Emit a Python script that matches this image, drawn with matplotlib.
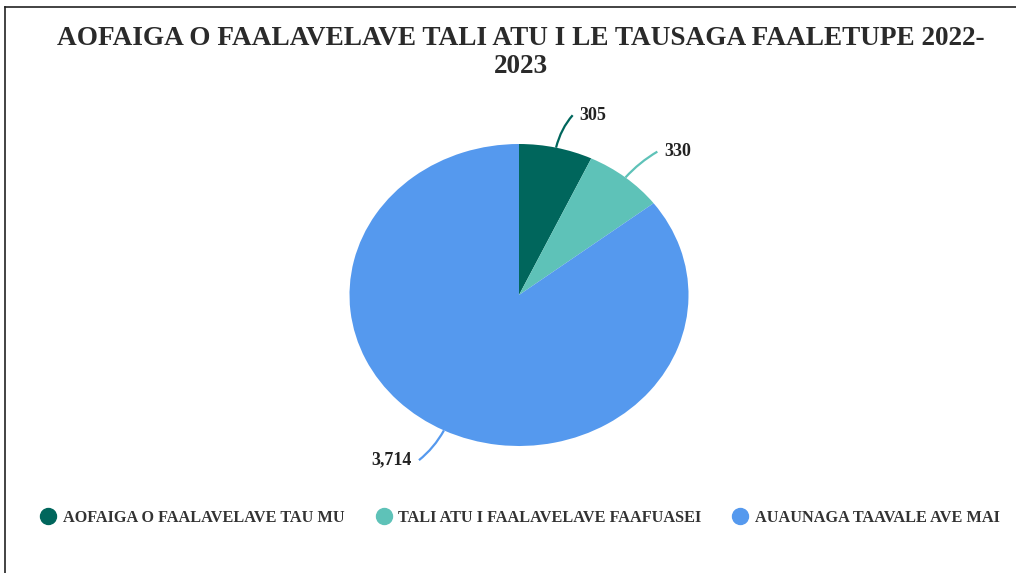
import numpy as np
import matplotlib.pyplot as plt
from matplotlib.path import Path
from matplotlib.patches import PathPatch
from matplotlib.lines import Line2D

labels = ["AOFAIGA O FAALAVELAVE TAU MU", "TALI ATU I FAALAVELAVE FAAFUASEI", "AUAUNAGA TAAVALE AVE MAI"]
values = [305, 330, 3714]
colors = ["#00665c", "#5ec2b8", "#5599ee"]
title = "AOFAIGA O FAALAVELAVE TALI ATU I LE TAUSAGA FAALETUPE 2022-\n2023"

W, H = 1016, 573
fig = plt.figure(figsize=(W / 100, H / 100), dpi=100)
fig.patch.set_facecolor("white")

# pie box in pixels (image is slightly stretched horizontally)
cx, cy, rx, ry = 519, 295, 169.5, 151
ax = fig.add_axes([(cx - rx) / W, 1 - (cy + ry) / H, 2 * rx / W, 2 * ry / H])
wedges, _ = ax.pie(values, colors=colors, startangle=90, counterclock=False,
                   wedgeprops=dict(linewidth=0))
ax.set_aspect("auto")
ax.set_xlim(-1, 1)
ax.set_ylim(-1, 1)
ax.axis("off")

total = sum(values)
start = 90.0
for v, c in zip(values, colors):
    span = v / total * 360
    mid = np.deg2rad(start - span / 2)
    start -= span
    dx, dy = np.cos(mid), np.sin(mid)
    side = 1 if dx >= 0 else -1
    p0 = (dx, dy)
    p1 = (dx * 1.13, dy * 1.13)
    p2 = (dx * 1.22 + side * 0.05, dy * 1.22)
    path = Path([p0, p1, p2], [Path.MOVETO, Path.CURVE3, Path.CURVE3])
    ax.add_patch(PathPatch(path, fill=False, edgecolor=c, lw=1.6, clip_on=False))
    ax.text(p2[0] + side * 0.04, p2[1], f"{v:,}", ha="left" if side > 0 else "right",
            va="center", fontsize=13, fontweight="bold", family="Liberation Serif",
            color="#222222", clip_on=False)

fig.text(521 / W, 1 - 26 / H, title, ha="center", va="top", fontsize=19.6,
         fontweight="bold", family="Liberation Serif", color="#2a2a2a", linespacing=1.17)

handles = [Line2D([], [], marker="o", ls="", markersize=11.5, markerfacecolor=c,
                  markeredgecolor=c) for c in colors]
fig.legend(handles, labels, loc="center", bbox_to_anchor=(520 / W, 1 - 518 / H), ncol=3,
           frameon=False, handletextpad=0.4, columnspacing=1.9, handlelength=1.0,
           prop=dict(family="Liberation Serif", size=11.7, weight="bold"), labelcolor="#333333")

# frame lines (top and left)
fig.add_artist(Line2D([5 / W, 1], [1 - 7 / H, 1 - 7 / H], color="#222222", lw=1.2))
fig.add_artist(Line2D([5 / W, 5 / W], [0, 1 - 7 / H], color="#222222", lw=1.2))

fig.savefig("out.png", dpi=100)
